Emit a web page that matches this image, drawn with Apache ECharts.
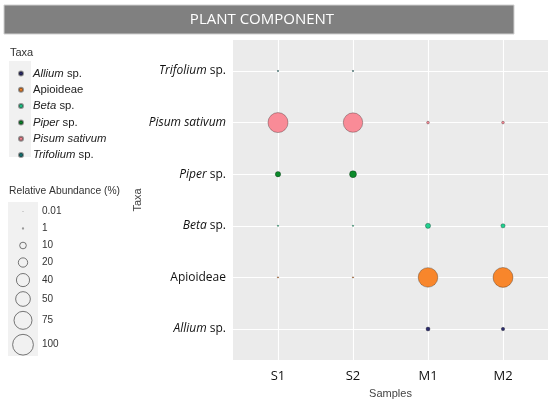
<!DOCTYPE html>
<html>
<head>
<meta charset="utf-8">
<script src="https://cdn.jsdelivr.net/npm/echarts@6/dist/echarts.min.js"></script>
<style>
    html,body{margin:0;padding:0;background:#fff;}
    #chart{width:550px;height:404px;}
</style>
</head>
<body>
<div id="chart"></div>
<script>
    // samples on x, taxa on y (bottom to top)
    var samples = ['S1', 'S2', 'M1', 'M2'];
    var taxa = ['Allium sp.', 'Apioideae', 'Beta sp.', 'Piper sp.', 'Pisum sativum', 'Trifolium sp.'];
    var colors = ['#2c2c6c', '#f8862b', '#22d08f', '#0b8a2a', '#f98b97', '#167a7a'];

    // relative abundance (%) per sample, null = absent
    var allium    = [null, null, 3.5, 2.5];
    var apioideae = [0.2, 0.2, 89, 92];
    var beta      = [0.2, 0.2, 6, 4];
    var piper     = [6.5, 11, null, null];
    var pisum     = [93, 88, 1.5, 1.5];
    var trifolium = [0.2, 0.2, null, null];
    var values = [allium, apioideae, beta, piper, pisum, trifolium];

    var sizeBreaks = [0.01, 1, 10, 20, 40, 50, 75, 100];

    // bubble diameter, area grows with abundance
    function sizeOf(v){ return Math.sqrt(1 + 4.3 * v); }

    // label rich text: genus italic
    function taxLabel(name){
        if (name == 'Apioideae') return '{n|Apioideae}';
        if (name == 'Pisum sativum') return '{i|Pisum sativum}';
        var p = name.split(' ');
        return '{i|' + p[0] + '}{n| ' + p[1] + '}';
    }

    var series = [];
    for (var t = 0; t < taxa.length; t++){
        var pts = [];
        for (var s = 0; s < samples.length; s++){
            if (values[t][s] != null) pts.push([s, t, values[t][s]]);
        }
        series.push({
            name: taxa[t],
            type: 'scatter',
            z: 3,
            data: pts,
            symbolSize: function(d){ return sizeOf(d[2]); },
            itemStyle: {color: colors[t], borderColor: 'rgba(0,0,0,0.4)', borderWidth: 0.7, opacity: 1},
            emphasis: {disabled: true}
        });
    }

    // white panel grid lines
    var gl = [];
    for (var i = 0; i < samples.length; i++) gl.push({xAxis: i});
    for (var j = 0; j < taxa.length; j++) gl.push({yAxis: j});
    series.push({
        name: 'grid', type: 'scatter', z: 1, data: [], silent: true,
        markLine: {silent: true, z: 1, symbol: 'none', animation: false, label: {show: false},
            lineStyle: {color: '#ffffff', width: 1.1, type: 'solid'}, data: gl}
    });

    // size legend, stacked keys
    var graphics = [
        {type: 'rect', shape: {x: 4, y: 5, width: 510, height: 29}, style: {fill: '#808080', stroke: '#d0d0d0', lineWidth: 1}},
        {type: 'text', x: 262, y: 20, style: {text: 'PLANT COMPONENT', fill: '#ffffff', font: '15px "Open Sans"', textAlign: 'center', textVerticalAlign: 'middle'}},
        {type: 'text', x: 10, y: 53, style: {text: 'Taxa', fill: '#333', font: '11px "Liberation Sans"', textVerticalAlign: 'middle'}},
        {type: 'rect', shape: {x: 9, y: 61, width: 22, height: 96}, style: {fill: '#f1f1f1'}, z: -1},
        {type: 'text', x: 9, y: 191, style: {text: 'Relative Abundance (%)', fill: '#333', font: '10.3px "Liberation Sans"', textVerticalAlign: 'middle'}},
        {type: 'rect', shape: {x: 8, y: 202, width: 30, height: 154}, style: {fill: '#f1f1f1'}, z: -1}
    ];
    var ky = 203, prevH = 0;
    for (var k = 0; k < sizeBreaks.length; k++){
        var d = sizeOf(sizeBreaks[k]);
        var h = Math.max(17, d + 5);
        ky += (k == 0 ? h / 2 : (prevH + h) / 2);
        prevH = h;
        graphics.push({type: 'circle', shape: {cx: 23, cy: ky, r: d / 2},
            style: {fill: k < 2 ? '#999' : 'none', stroke: k < 2 ? 'none' : '#555', lineWidth: 0.8}});
        graphics.push({type: 'text', x: 42, y: ky, style: {text: String(sizeBreaks[k]), fill: '#333',
            font: '10px "Liberation Sans"', textVerticalAlign: 'middle'}});
    }

    var chart = echarts.init(document.getElementById('chart'));
    chart.setOption({
        animation: false,
        legend: {
            data: taxa, orient: 'vertical', left: 13, top: 62,
            icon: 'circle', itemWidth: 14, itemHeight: 4, itemGap: 3.3,
            selectedMode: false,
            formatter: taxLabel,
            textStyle: {
                fontSize: 11, color: '#222', lineHeight: 13,
                rich: {
                    i: {fontStyle: 'italic', fontSize: 11.3, color: '#222', fontFamily: 'Liberation Sans'},
                    n: {fontSize: 11.3, color: '#222', fontFamily: 'Liberation Sans'}
                }
            }
        },
        grid: {left: 233, right: 2, top: 40, bottom: 40, show: true, backgroundColor: '#ebebeb', borderWidth: 0},
        xAxis: {
            type: 'value', min: -0.6, max: 3.6,
            name: 'Samples', nameLocation: 'middle', nameGap: 28, nameMoveOverlap: false,
            nameTextStyle: {fontSize: 11, color: '#444', fontFamily: 'Liberation Sans'},
            axisLine: {show: false},
            axisTick: {show: true, length: 4, lineStyle: {color: '#444'}, customValues: [0, 1, 2, 3]},
            axisLabel: {customValues: [0, 1, 2, 3], margin: 10, fontSize: 13, color: '#111',
                fontFamily: 'Open Sans', formatter: function(v){ return samples[v]; }},
            splitLine: {show: false}
        },
        yAxis: {
            type: 'value', min: -0.6, max: 5.6,
            name: 'Taxa', nameLocation: 'middle', nameGap: 90, nameRotate: 90, nameMoveOverlap: false,
            nameTextStyle: {fontSize: 11, color: '#444', fontFamily: 'Liberation Sans'},
            axisLine: {show: false},
            axisTick: {show: true, length: 4, lineStyle: {color: '#444'}, customValues: [0, 1, 2, 3, 4, 5]},
            axisLabel: {customValues: [0, 1, 2, 3, 4, 5], margin: 7,
                formatter: function(v){ return taxLabel(taxa[v]); },
                rich: {
                    i: {fontStyle: 'italic', fontSize: 12, color: '#111', fontFamily: 'Open Sans'},
                    n: {fontSize: 12, color: '#111', fontFamily: 'Open Sans'}
                }},
            splitLine: {show: false}
        },
        graphic: graphics,
        series: series
    });
</script>
</body>
</html>
